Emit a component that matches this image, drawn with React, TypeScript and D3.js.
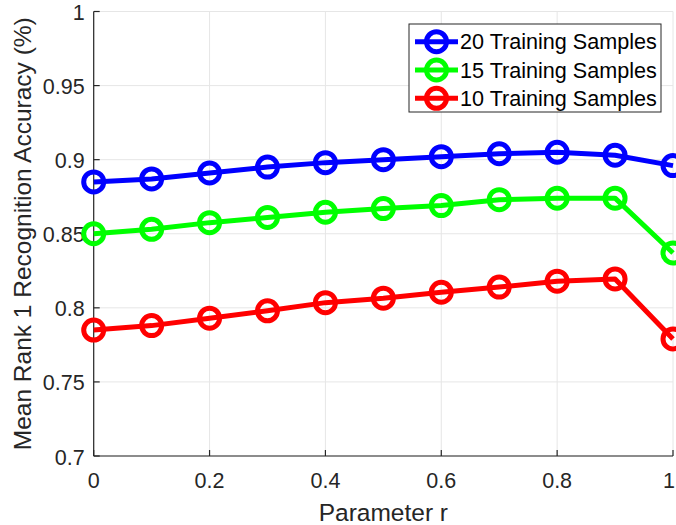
import React from "react";
import * as d3 from "d3";

// values
const rValues = [0, 0.1, 0.2, 0.3, 0.4, 0.5, 0.6, 0.7, 0.8, 0.9, 1];
const acc20 = [0.885, 0.887, 0.891, 0.895, 0.898, 0.9, 0.902, 0.904, 0.905, 0.903, 0.896];
const acc15 = [0.85, 0.853, 0.8575, 0.861, 0.8645, 0.867, 0.869, 0.873, 0.874, 0.874, 0.837];
const acc10 = [0.785, 0.788, 0.793, 0.798, 0.8035, 0.8065, 0.8105, 0.814, 0.818, 0.8195, 0.779];
const seriesNames = ["20 Training Samples", "15 Training Samples", "10 Training Samples"];
const seriesColors = ["#0000ff", "#00ff00", "#ff0000"];
const xTicks = [0, 0.2, 0.4, 0.6, 0.8, 1];
const yTicks = [0.7, 0.75, 0.8, 0.85, 0.9, 0.95, 1];

const W = 676;
const H = 525;
const font = "'Liberation Sans', Arial, Helvetica, sans-serif";
const axisColor = "#262626";
const gridColor = "#e6e6e6";

export default function App() {
  const x = d3.scaleLinear().domain([0, 1]).range([93.7, 673]);
  const y = d3.scaleLinear().domain([0.7, 1]).range([456, 11.5]);

  const series = [acc20, acc15, acc10];
  const line = d3
    .line<number>()
    .x((_, i) => x(rValues[i]))
    .y((d) => y(d));

  const lineW = 5;
  const r = 10;

  // legend layout
  const lg = { x0: 409, y0: 24, x1: 661, y1: 112 };
  const rowY = [41.7, 70, 98.3];

  return (
    <div style={{ position: "fixed", left: 0, top: 0 }}>
      <svg width={W} height={H} style={{ display: "block", background: "#fff" }}>
        <rect width={W} height={H} fill="#fff" />
        {/* grid */}
        <g stroke={gridColor} strokeWidth={1}>
          {xTicks.map((t) => (
            <line key={"gx" + t} x1={x(t)} x2={x(t)} y1={y(0.7)} y2={y(1)} />
          ))}
          {yTicks.map((t) => (
            <line key={"gy" + t} x1={x(0)} x2={x(1)} y1={y(t)} y2={y(t)} />
          ))}
        </g>

        {/* axes */}
        <g stroke={axisColor} strokeWidth={1.2}>
          <line x1={x(0)} x2={x(0)} y1={y(0.7)} y2={y(1)} />
          <line x1={x(0)} x2={x(1)} y1={y(0.7)} y2={y(0.7)} />
          {yTicks.map((t) => (
            <line key={"ty" + t} x1={x(0)} x2={x(0) + 6} y1={y(t)} y2={y(t)} />
          ))}
          {xTicks.map((t) => (
            <line key={"tx" + t} x1={x(t)} x2={x(t)} y1={y(0.7)} y2={y(0.7) - 6} />
          ))}
        </g>

        {/* tick labels */}
        <g fontFamily={font} fontSize={21.5} fill={axisColor}>
          {yTicks.map((t) => (
            <text key={"ly" + t} x={x(0) - 9} y={y(t) + 8.5} textAnchor="end">
              {d3.format("~g")(t)}
            </text>
          ))}
          {xTicks.map((t) => (
            <text key={"lx" + t} x={Math.min(x(t), W - 7)} y={488} textAnchor="middle">
              {d3.format("~g")(t)}
            </text>
          ))}
        </g>

        {/* axis labels */}
        <text
          x={(x(0) + x(1)) / 2}
          y={521}
          textAnchor="middle"
          fontFamily={font}
          fontSize={24.5}
          fill={axisColor}
        >
          Parameter r
        </text>
        <text
          transform={`translate(31,${(y(0.7) + y(1)) / 2}) rotate(-90)`}
          textAnchor="middle"
          fontFamily={font}
          fontSize={24.5}
          fill={axisColor}
        >
          Mean Rank 1 Recognition Accuracy (%)
        </text>

        {/* data */}
        {series.map((s, k) => (
          <g key={"s" + k} stroke={seriesColors[k]} fill="none" strokeWidth={lineW}>
            <path d={line(s) || ""} strokeLinejoin="round" />
            {s.map((v, i) => (
              <circle key={i} cx={x(rValues[i])} cy={y(v)} r={r} />
            ))}
          </g>
        ))}

        {/* legend */}
        <rect
          x={lg.x0}
          y={lg.y0}
          width={lg.x1 - lg.x0}
          height={lg.y1 - lg.y0}
          fill="#fff"
          stroke={axisColor}
          strokeWidth={1}
        />
        {seriesNames.map((name, k) => (
          <g key={"lg" + k}>
            <g stroke={seriesColors[k]} fill="none" strokeWidth={lineW}>
              <line x1={415} x2={458} y1={rowY[k]} y2={rowY[k]} />
              <circle cx={436.5} cy={rowY[k]} r={r} />
            </g>
            <text x={460} y={rowY[k] + 7.5} fontFamily={font} fontSize={21.6} fill="#000">
              {name}
            </text>
          </g>
        ))}
      </svg>
    </div>
  );
}
